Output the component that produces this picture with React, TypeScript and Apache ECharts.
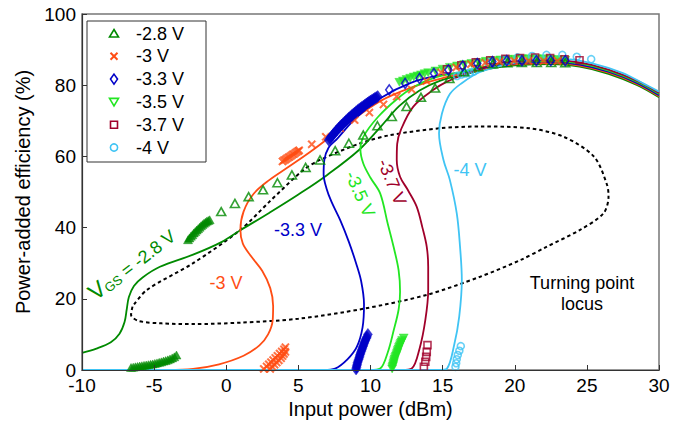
import React, { useEffect, useRef } from "react";
import * as echarts from "echarts";

const FONT = '"Liberation Sans", Arial, Helvetica, sans-serif';

const C28 = "#008a00";
const C3 = "#ff4d14";
const C33 = "#0000c8";
const C35 = "#22e622";
const C37 = "#a0002a";
const C4 = "#40c4f4";

const legendNames = ["-2.8 V", "-3 V", "-3.3 V", "-3.5 V", "-3.7 V", "-4 V"];

// Solid simulated curves [input power dBm, PAE %]
const line28 = [[-10,4.8],[-9,6.0],[-8,7.8],[-7.4,10.2],[-7.05,13.5],[-6.9,17],[-6.75,20.5],[-6.4,23.6],[-5.8,26.0],[-4.6,29.0],[-2.3,32.4],[-0.3,36.0],[1.0,39.3],[3.0,44.2],[5.0,49.3],[7.0,54.8],[9.2,61.8],[10.7,68.3],[12.0,74.2],[13.4,78.5],[14.8,81.2],[16.5,83.0],[18.5,84.8],[20.5,85.7],[22.5,85.9],[24.5,85.2],[26.5,83.2],[28.5,80.0],[30,76.6]];
const line3 = [[-10,0],[-4,0],[-2.3,0.3],[-0.5,1.6],[1.2,4.0],[2.3,6.9],[2.9,10],[3.22,14],[3.25,18],[3.05,23],[2.5,27.8],[1.75,31.8],[1.15,35.5],[0.98,39.3],[1.2,44.5],[1.9,49.5],[3.0,53.4],[4.3,57],[6.0,61.8],[8.4,69.2],[10.7,75.6],[13.0,79.6],[15.0,82.0],[16.5,83.3],[18.5,85.1],[20.5,86.0],[22.5,86.2],[24.5,85.5],[26.5,83.5],[28.5,80.3],[30,76.9]];
const line33 = [[-10,0],[6.8,0],[7.55,0.4],[8.4,3.0],[9.05,6.5],[9.45,12],[9.55,18.5],[9.35,25],[9.0,30],[8.5,36],[7.9,42.1],[7.3,47.2],[6.95,51],[6.75,55],[6.8,59],[7.1,62.5],[7.7,65],[9.0,70.8],[10.8,76.6],[12.75,80.6],[14.8,82.8],[16.5,83.6],[18.5,85.4],[20.5,86.3],[22.5,86.5],[24.5,85.8],[26.5,83.8],[28.5,80.6],[30,77.2]];
const line35 = [[-10,0],[10.0,0],[10.67,0.4],[11.2,5],[11.6,11],[11.95,17],[12.05,22],[11.95,28],[11.6,34.6],[11.2,41],[10.67,49.6],[10.0,54],[9.5,58],[9.3,62],[9.5,65.5],[10.5,71],[11.8,76],[13.0,79.5],[14.5,82.2],[16.5,83.9],[18.5,85.7],[20.5,86.6],[22.5,86.8],[24.5,86.1],[26.5,84.1],[28.5,80.9],[30,77.5]];
const line37 = [[-10,0],[12.2,0],[12.86,0.4],[13.4,6],[13.8,14],[14.0,22.5],[14.0,29],[13.9,34.6],[13.6,40],[13.2,45.9],[12.6,50.5],[12.05,54.3],[11.82,59],[11.85,63.5],[12.1,67.4],[12.97,74],[14.36,78.7],[15.3,81],[16.5,83.0],[18.5,85.8],[20.5,86.9],[22.5,87.1],[24.5,86.4],[26.5,84.4],[28.5,81.2],[30,77.8]];
const line4 = [[-10,0],[14.8,0],[15.3,0.4],[15.8,7],[16.15,15],[16.33,25.3],[16.2,35],[15.98,44],[15.5,53.4],[15.06,59],[14.75,66.5],[14.95,72],[15.5,77.5],[16.3,80.5],[17.6,83.7],[19.5,85.9],[21.5,87.2],[23.5,87.3],[25.5,86.0],[27.5,83.4],[29,80.3],[30,78.2]];

// Turning point locus (dotted)
const locus = [[-6.5,17.8],[-6.6,15.5],[-6.1,13.8],[-4.5,13.1],[-2.3,12.9],[1,13.3],[5,14.4],[9.5,17.2],[13.9,21.1],[17.6,26.2],[20.4,30.9],[22.2,34.6],[24.5,39.3],[26.15,44],[26.5,48.7],[26.4,52],[25.5,59.9],[23.4,65.5],[21,67.9],[17.6,68.4],[14.8,67.9],[11.4,66],[9.3,63.7],[6.5,59],[5.35,56.2],[3,47.3],[0.96,39.3],[-2.3,30],[-5.5,22.5],[-6.5,17.8]];

// Measured points
const pts28 = [[-0.35,44.5],[0.6,46.8],[1.55,48.7],[2.55,50.6],[3.55,52.6],[4.55,54.8],[5.5,56.9],[6.5,59.0],[7.55,61.6],[8.5,63.7],[9.5,66.0],[10.48,68.6],[11.48,71.2],[12.5,74.0],[13.5,76.6],[14.48,79.2],[15.47,81.9],[16.49,83.8],[17.48,85.2],[18.48,86.0],[19.49,86.3],[20.49,86.4],[21.53,86.4],[22.53,86.4],[23.5,86.3]];
const dense28 = [[-6.6,0.7],[-6.45,0.8],[-6.3,0.9],[-6.15,1.0],[-6.0,1.1],[-5.85,1.2],[-5.7,1.3],[-5.55,1.4],[-5.4,1.5],[-5.25,1.6],[-5.1,1.7],[-4.95,1.85],[-4.8,2.0],[-4.65,2.15],[-4.5,2.3],[-4.35,2.5],[-4.2,2.65],[-4.05,2.85],[-3.9,3.1],[-3.75,3.4],[-3.6,3.7],[-3.45,4.2],[-2.65,36.6],[-2.55,37.1],[-2.45,37.6],[-2.35,38.0],[-2.25,38.5],[-2.15,38.9],[-2.05,39.3],[-1.95,39.7],[-1.85,40.1],[-1.75,40.5],[-1.65,40.85],[-1.55,41.2],[-1.45,41.5],[-1.35,41.8],[-1.25,42.0],[-1.15,42.2]];
const pts3 = [[5.93,63.4],[6.9,65.5],[7.9,67.9],[8.9,70.2],[9.92,72.3],[10.9,74.6],[11.82,76.8],[12.86,78.8],[13.88,81.2],[14.9,83.6],[15.94,85.0],[16.96,85.9],[17.95,86.3],[18.94,86.6],[19.96,86.8],[20.95,86.8],[21.99,86.8],[22.96,86.8]];
const dense3 = [[3.9,58.6],[4.0,58.9],[4.1,59.1],[4.2,59.4],[4.3,59.7],[4.4,59.9],[4.5,60.2],[4.6,60.5],[4.7,60.7],[4.8,61.0],[4.9,61.3],[5.0,61.5],[5.05,61.7],[2.6,0.3],[2.8,1.0],[2.95,1.6],[3.1,2.2],[3.25,2.8],[3.4,3.4],[3.55,4.0],[3.7,4.6],[3.85,5.2],[4.0,5.8],[4.1,6.4],[3.05,0.3],[3.2,0.9],[3.35,1.5],[3.5,2.1],[3.65,2.7],[3.8,3.3],[3.9,3.9],[4.0,4.5],[4.1,5.1]];
const pts33 = [[11.3,78.7],[12.4,80.5],[13.4,81.9],[14.4,83.3],[15.4,84.3],[16.4,85.4],[17.4,86.1],[18.45,86.6],[19.45,86.9],[20.5,86.9],[21.5,86.9],[22.5,86.9],[23.5,86.9]];
const dense33 = [[7.1,64.6],[7.2,65.1],[7.3,65.6],[7.4,66.1],[7.5,66.6],[7.6,67.05],[7.7,67.5],[7.8,67.95],[7.9,68.4],[8.0,68.8],[8.1,69.2],[8.2,69.6],[8.3,70.0],[8.4,70.4],[8.5,70.8],[8.6,71.15],[8.7,71.5],[8.8,71.85],[8.9,72.2],[9.0,72.55],[9.1,72.9],[9.2,73.2],[9.3,73.5],[9.4,73.8],[9.5,74.1],[9.6,74.4],[9.7,74.7],[9.8,75.0],[9.9,75.3],[10.0,75.55],[10.1,75.8],[10.2,76.05],[10.3,76.3],[10.4,76.55],[10.5,76.8],[9.0,0.3],[9.03,0.75],[9.05,1.2],[9.08,1.65],[9.1,2.1],[9.14,2.55],[9.18,3.0],[9.22,3.45],[9.25,3.9],[9.28,4.35],[9.32,4.8],[9.36,5.25],[9.4,5.7],[9.44,6.15],[9.48,6.6],[9.52,7.05],[9.56,7.5],[9.6,7.95],[9.65,8.4],[9.7,8.85],[9.75,9.3],[9.82,10.0]];
const dense35 = [[12.0,80.8],[12.25,81.2],[12.5,81.6],[12.75,81.95],[13.0,82.3],[13.25,82.6],[13.5,82.9],[13.75,83.2],[14.0,83.5],[14.5,84.0],[15.0,84.5],[15.5,85.0],[16.0,85.4],[16.5,85.8],[17.0,86.1],[17.5,86.4],[18.0,86.7],[18.5,86.9],[19.0,87.1],[19.5,87.2],[20.0,87.3],[20.5,87.4],[21.0,87.4],[21.5,87.4],[22.0,87.4],[22.5,87.3],[23.0,87.2],[23.5,87.0],[11.5,0.3],[11.52,0.7],[11.55,1.1],[11.58,1.5],[11.6,1.9],[11.63,2.3],[11.65,2.7],[11.68,3.1],[11.72,3.5],[11.76,3.9],[11.8,4.3],[11.84,4.7],[11.87,5.1],[11.9,5.5],[11.94,5.9],[11.98,6.3],[12.02,6.7],[12.06,7.1],[12.1,7.5],[12.15,7.9],[12.2,8.3],[12.3,9.0]];
const pts37 = [[13.7,0.9],[13.8,2.3],[13.86,3.7],[13.9,5.1],[13.95,7.0],[15.3,84.5],[16.3,85.6],[17.3,86.4],[18.3,87.0],[19.35,87.4],[20.37,87.6],[21.41,87.8],[22.45,87.6],[23.45,87.3],[24.49,87.0]];
const pts4 = [[15.89,0.9],[15.94,1.9],[15.98,3.0],[16.05,4.2],[16.16,5.4],[16.26,6.7],[16.0,82.6],[16.3,83.0],[16.6,83.3],[16.9,83.6],[17.2,83.9],[18.2,86.4],[19.2,87.2],[20.2,87.8],[21.2,88.2],[22.2,88.5],[23.3,88.5],[24.3,88.0],[25.3,87.3]];

const CROSS = "path://M0,1.4L1.4,0L5,3.6L8.6,0L10,1.4L6.4,5L10,8.6L8.6,10L5,6.4L1.4,10L0,8.6L3.6,5Z";

function lineSeries(data: number[][], color: string, z: number) {
  return {
    type: "line",
    data,
    showSymbol: false,
    symbol: "none",
    smooth: 0.35,
    lineStyle: { color, width: 1.8 },
    silent: true,
    z,
  };
}

function scatter(data: number[][], symbol: string, size: any, color: string, filled: boolean, z: number, rotate = 0) {
  return {
    type: "scatter",
    data,
    symbol,
    symbolSize: size,
    symbolRotate: rotate,
    itemStyle: filled
      ? { color, borderColor: color, borderWidth: 0.5 }
      : { color: "rgba(255,255,255,0)", borderColor: color, borderWidth: 1.6 },
    silent: true,
    z,
  };
}

const rowY = [33.5, 56.3, 79.1, 101.9, 124.7, 147.5];
const mx = 114;

function legendGraphics() {
  const els: any[] = [
    { type: "rect", shape: { x: 87, y: 21, width: 119, height: 141 }, style: { fill: "#fff", stroke: "#333", lineWidth: 1 }, z: 90 },
  ];
  const st = (c: string) => ({ fill: "none", stroke: c, lineWidth: 1.6 });
  els.push({ type: "polygon", shape: { points: [[mx, rowY[0] - 4], [mx + 4.5, rowY[0] + 3.5], [mx - 4.5, rowY[0] + 3.5]] }, style: st(C28), z: 91 });
  els.push({ type: "line", shape: { x1: mx - 3.5, y1: rowY[1] - 3.5, x2: mx + 3.5, y2: rowY[1] + 3.5 }, style: { stroke: C3, lineWidth: 2 }, z: 91 });
  els.push({ type: "line", shape: { x1: mx + 3.5, y1: rowY[1] - 3.5, x2: mx - 3.5, y2: rowY[1] + 3.5 }, style: { stroke: C3, lineWidth: 2 }, z: 91 });
  els.push({ type: "polygon", shape: { points: [[mx, rowY[2] - 5], [mx + 3.5, rowY[2]], [mx, rowY[2] + 5], [mx - 3.5, rowY[2]]] }, style: st(C33), z: 91 });
  els.push({ type: "polygon", shape: { points: [[mx - 4.5, rowY[3] - 3.5], [mx + 4.5, rowY[3] - 3.5], [mx, rowY[3] + 4]] }, style: st(C35), z: 91 });
  els.push({ type: "rect", shape: { x: mx - 3.5, y: rowY[4] - 3.5, width: 7, height: 7 }, style: st(C37), z: 91 });
  els.push({ type: "circle", shape: { cx: mx, cy: rowY[5], r: 3.6 }, style: st(C4), z: 91 });
  legendNames.forEach((n, i) => {
    els.push({
      type: "text", x: 136, y: rowY[i], z: 92,
      style: { text: n, fill: "#000", fontSize: 18, fontFamily: FONT, align: "left", verticalAlign: "middle" },
    });
  });
  return els;
}

function label(text: string, x: number, y: number, color: string, rotation = 0) {
  return {
    type: "text", x, y, rotation, z: 95,
    style: { text, fill: color, fontSize: 18, fontFamily: FONT, align: "center", verticalAlign: "middle" },
  };
}

export default function App() {
  const ref = useRef<HTMLDivElement>(null);
  useEffect(() => {
    document.body.style.margin = "0";
    const chart = echarts.init(ref.current!, null, { renderer: "svg" });
    const option: any = {
      animation: false,
      backgroundColor: "#fff",
      grid: { left: 82, right: 40, top: 14, bottom: 56, show: true, borderColor: "#777", borderWidth: 1.5 },
      xAxis: {
        type: "value", min: -10, max: 30, interval: 5, z: 10,
        name: "Input power (dBm)", nameLocation: "middle", nameGap: 29,
        nameTextStyle: { fontSize: 20, fontFamily: FONT, color: "#000" },
        axisLine: { onZero: false, lineStyle: { color: "#333", width: 1.2 } },
        axisTick: { inside: true, length: 5, lineStyle: { color: "#333" } },
        axisLabel: { fontSize: 19, fontFamily: FONT, color: "#000", margin: 7, lineHeight: 16 },
        splitLine: { show: false },
      },
      yAxis: {
        type: "value", min: 0, max: 100, interval: 20, z: 10,
        name: "Power-added efficiency (%)", nameLocation: "middle", nameGap: 43,
        nameTextStyle: { fontSize: 20, fontFamily: FONT, color: "#000" },
        axisLine: { show: true, onZero: false, lineStyle: { color: "#333", width: 1.2 } },
        axisTick: { inside: true, length: 5, lineStyle: { color: "#333" } },
        axisLabel: { fontSize: 19, fontFamily: FONT, color: "#000", margin: 6, lineHeight: 16, padding: [0, 0, 6, 0] },
        splitLine: { show: false },
      },
      series: [
        { type: "line", data: locus, showSymbol: false, symbol: "none", smooth: 0.3, silent: true, z: 2,
          lineStyle: { color: "#000", width: 2, type: [3.5, 3] } },
        lineSeries(line28, C28, 3),
        lineSeries(line3, C3, 3),
        lineSeries(line33, C33, 3),
        lineSeries(line35, C35, 3),
        lineSeries(line37, C37, 3),
        lineSeries(line4, C4, 3),
        scatter(dense35, "triangle", [9, 8], C35, true, 4, 180),
        scatter(pts4, "circle", 7, C4, false, 5),
        scatter(pts37, "rect", 7, C37, false, 5),
        scatter(dense28, "triangle", [9, 8], C28, true, 5),
        scatter(pts28, "triangle", [9, 8], C28, false, 6),
        scatter(dense3, CROSS, 8, C3, true, 6),
        scatter(pts3, CROSS, 8, C3, true, 6),
        scatter(dense33, "diamond", [9, 12], C33, true, 7),
        scatter(pts33, "diamond", [7, 10], C33, false, 7),
      ],
      graphic: [
        ...legendGraphics(),
        {
          type: "text", x: 131, y: 263, rotation: 0.66, z: 95,
          style: {
            text: "{v|V}{s|GS}{t| = -2.8 V}",
            fill: C28,
            align: "center",
            verticalAlign: "middle",
            rich: {
              v: { fontSize: 23, fontFamily: FONT, fill: C28, verticalAlign: "bottom", lineHeight: 24 },
              s: { fontSize: 13, fontFamily: FONT, fill: C28, verticalAlign: "bottom", lineHeight: 20 },
              t: { fontSize: 18, fontFamily: FONT, fill: C28, verticalAlign: "bottom", lineHeight: 23 },
            },
          },
        },
        label("-3 V", 226, 283, C3),
        label("-3.3 V", 298, 230, C33),
        label("-3.5 V", 360, 194, C35, -1.15),
        label("-3.7 V", 392, 182, C37, -1.18),
        label("-4 V", 470, 170, C4),
        label("Turning point", 582, 283, "#000"),
        label("locus", 582, 304, "#000"),
      ],
    };
    chart.setOption(option);
    return () => chart.dispose();
  }, []);
  return <div ref={ref} style={{ width: 699, height: 426, position: "absolute", left: 0, top: 0 }} />;
}
